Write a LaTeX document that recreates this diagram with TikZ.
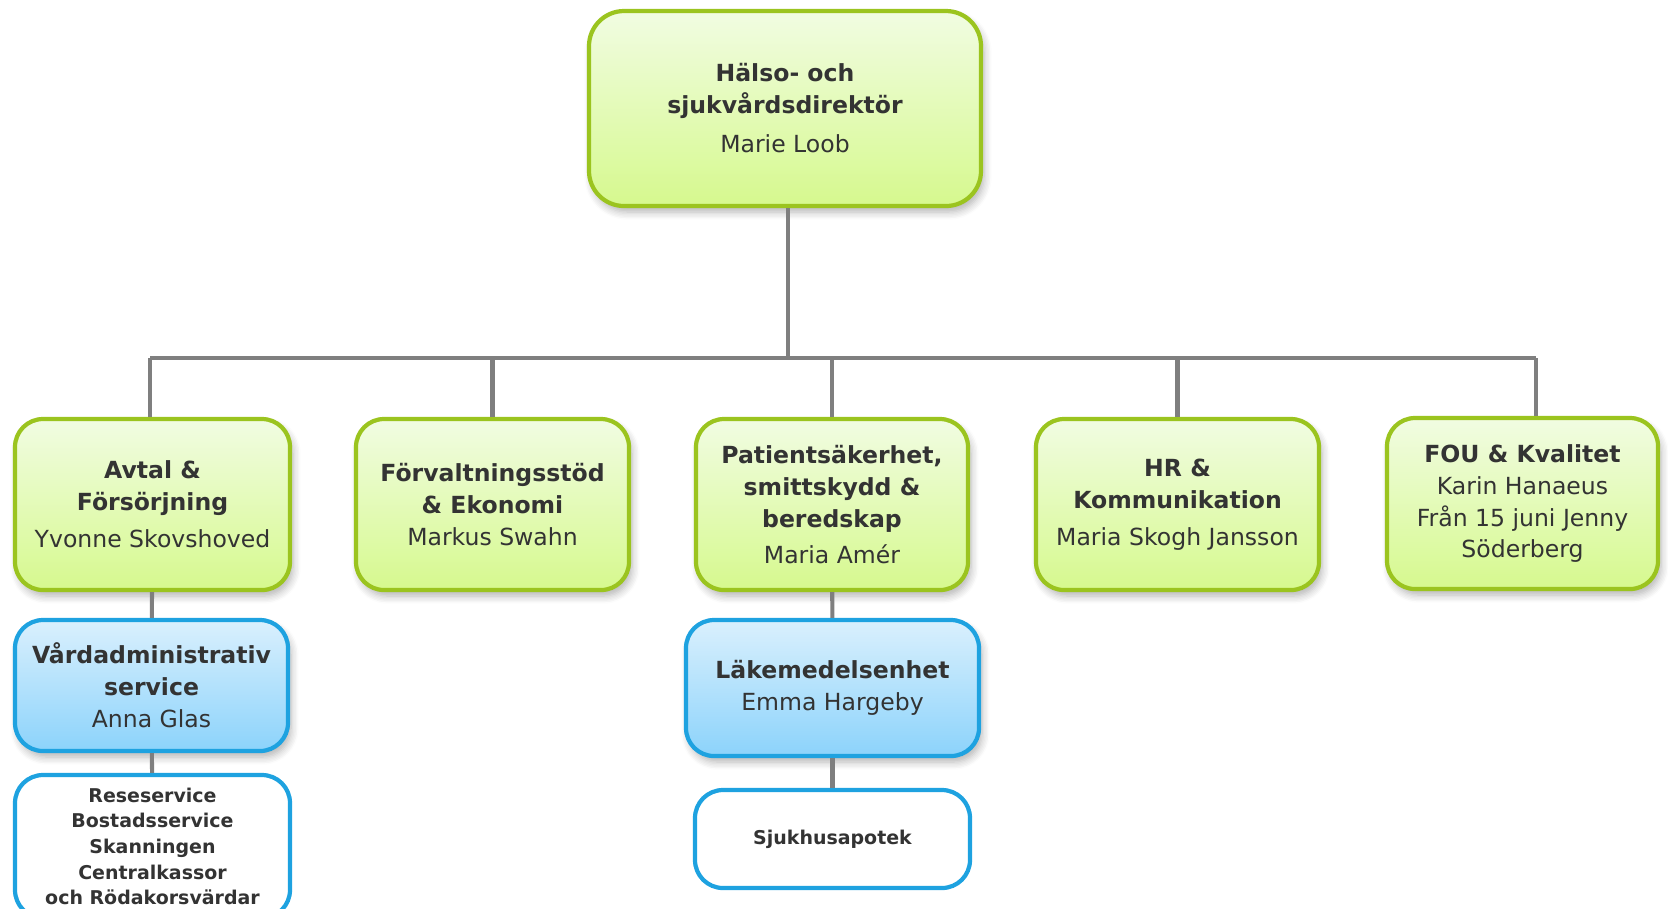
\documentclass[tikz,border=0pt]{standalone}
\usepackage{fontspec}
\setmainfont{DejaVu Sans}
\usetikzlibrary{shadows.blur}

\definecolor{boxgreen}{HTML}{9BC41F}
\definecolor{greentop}{HTML}{F1FCE2}
\definecolor{greenbot}{HTML}{D6F98E}
\definecolor{boxblue}{HTML}{1EA2E0}
\definecolor{bluetop}{HTML}{DAF0FD}
\definecolor{bluebot}{HTML}{8CD3FB}
\definecolor{linegray}{HTML}{7F7F7F}
\definecolor{textgray}{HTML}{333333}

\begin{document}
\begin{tikzpicture}[thick,
    main node/.style={rectangle,rounded corners=2.8mm,draw=boxgreen,line width=1.2pt,
      top color=greentop,bottom color=greenbot,text=textgray,align=center,
      inner sep=0pt,minimum height=1.71cm,
      font=\fontsize{6.7}{9.1}\selectfont,
      blur shadow={shadow xshift=0.3mm,shadow yshift=-0.6mm,shadow blur steps=6,shadow opacity=30}},
    unit node/.style={main node,draw=boxblue,top color=bluetop,bottom color=bluebot},
    list node/.style={rectangle,rounded corners=2.8mm,draw=boxblue,line width=1.2pt,
      fill=white,text=textgray,align=center,inner sep=0pt,
      font=\fontsize{5.4}{7.3}\selectfont\bfseries},
    link/.style={draw=linegray,line width=1.15pt}]

  \useasboundingbox (0,0) rectangle (16.68,-9.08);
  \clip (0,0) rectangle (16.68,-9.08);

  % ledning
  \node[main node,rounded corners=3.5mm,minimum width=3.92cm,minimum height=1.95cm] (DIR)
    at (7.85,-1.085) {\textbf{Hälso- och}\\ \textbf{sjukvårdsdirektör}\\[2pt] Marie Loob};

  % avdelningar
  \node[main node,minimum width=2.75cm] (AVF) at (1.525,-5.045)
    {\textbf{Avtal \&}\\ \textbf{Försörjning}\\[1.5pt] Yvonne Skovshoved};
  \node[main node,minimum width=2.73cm] (FOE) at (4.925,-5.045)
    {\textbf{Förvaltningsstöd}\\ \textbf{\& Ekonomi}\\ Markus Swahn};
  \node[main node,minimum width=2.72cm] (PSB) at (8.32,-5.045)
    {\textbf{Patientsäkerhet,}\\ \textbf{smittskydd \&}\\ \textbf{beredskap}\\[1.2pt] Maria Amér};
  \node[main node,minimum width=2.83cm] (HRK) at (11.775,-5.045)
    {\textbf{HR \&}\\ \textbf{Kommunikation}\\[1.5pt] Maria Skogh Jansson};
  \node[main node,minimum width=2.71cm] (FOU) at (15.225,-5.035)
    {\textbf{FOU \& Kvalitet}\\ Karin Hanaeus\\ Från 15 juni Jenny\\ Söderberg};

  % enheter
  \node[unit node,minimum width=2.73cm,minimum height=1.31cm] (VAS) at (1.515,-6.855)
    {\textbf{Vårdadministrativ}\\ \textbf{service}\\ Anna Glas};
  \node[unit node,minimum width=2.93cm,minimum height=1.36cm] (LMF) at (8.325,-6.88)
    {\textbf{Läkemedelsenhet}\\ Emma Hargeby};

  \node[list node,minimum width=2.75cm,minimum height=1.43cm] (RES) at (1.525,-8.465)
    {Reseservice\\ Bostadsservice\\ Skanningen\\ Centralkassor\\ och Rödakorsvärdar};
  \node[list node,minimum width=2.75cm,minimum height=0.98cm] (SAP) at (8.325,-8.39)
    {Sjukhusapotek};

  \coordinate (busL) at (1.50,-3.58);
  \coordinate (busR) at (15.36,-3.58);
  \coordinate (busM) at (7.88,-3.58);

  \path[link]
    (busM |- DIR.south) edge (busM)
    (busL) edge (busR)
    (busL) edge (busL |- AVF.north)
    (FOE.north) edge (FOE.north |- busL)
    (PSB.north) edge (PSB.north |- busL)
    (HRK.north) edge (HRK.north |- busL)
    (busR) edge (busR |- FOU.north)
    (AVF) edge (VAS)
    (VAS) edge (RES)
    (PSB) edge (LMF)
    (LMF) edge (SAP);
\end{tikzpicture}
\end{document}
